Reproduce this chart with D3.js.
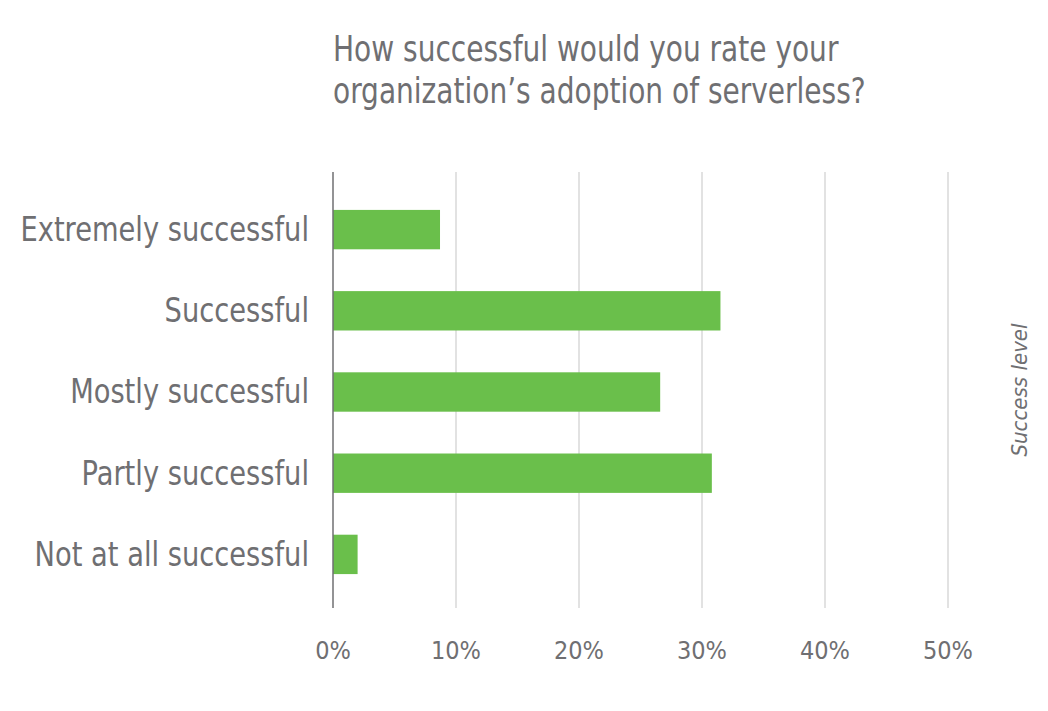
<!DOCTYPE html>
<html>
<head>
<meta charset="utf-8">
<script src="https://cdn.jsdelivr.net/npm/d3@7"></script>
<style>
  body { margin: 0; background: #fff; }
  text { font-family: "Liberation Sans Narrow", "DejaVu Sans Condensed", sans-serif; fill: #6f6f72; }
</style>
</head>
<body>
<div id="chart"></div>
<script>
// Data
const categories = ["Extremely successful", "Successful", "Mostly successful", "Partly successful", "Not at all successful"];
const values = [8.7, 31.5, 26.6, 30.8, 2.0];
const ticks = [0, 10, 20, 30, 40, 50];
const title = ["How successful would you rate your", "organization\u2019s adoption of serverless?"];

const width = 1048;
const height = 711;
const margin = { top: 172, right: 100, bottom: 103, left: 333 };
const squeeze = 0.89; // condensed look, the original face is narrower

const svg = d3.select("#chart")
    .append("svg")
    .attr("width", width)
    .attr("height", height);

const x = d3.scaleLinear()
    .domain([0, 50])
    .range([margin.left, margin.left + 615]);

// bands shifted a little down inside the plot area
const y = d3.scaleBand()
    .domain(categories)
    .range([margin.top + 3, height - margin.bottom + 1])
    .paddingInner(0.515)
    .paddingOuter(0.43);

// Gridlines
svg.append("g")
    .selectAll("line")
    .data(ticks.slice(1))
    .enter().append("line")
    .attr("x1", d => x(d)).attr("x2", d => x(d))
    .attr("y1", margin.top).attr("y2", height - margin.bottom)
    .attr("stroke", "#d9d9d9")
    .attr("stroke-width", 1.5);

// Bars
svg.selectAll(".bar")
    .data(categories)
    .enter().append("rect")
    .attr("x", x(0))
    .attr("y", d => y(d))
    .attr("width", (d, i) => x(values[i]) - x(0))
    .attr("height", y.bandwidth())
    .attr("fill", "#6abf4b");

// Baseline
svg.append("line")
    .attr("x1", x(0)).attr("x2", x(0))
    .attr("y1", margin.top).attr("y2", height - margin.bottom)
    .attr("stroke", "#6f6f72")
    .attr("stroke-width", 1.5);

// Category labels
svg.selectAll(".cat")
    .data(categories)
    .enter().append("text")
    .attr("transform", d => `translate(${x(0) - 24},${y(d) + y.bandwidth() / 2}) scale(0.92,1)`)
    .attr("text-anchor", "end")
    .attr("dominant-baseline", "central")
    .style("font-size", "33px")
    .text(d => d);

// Tick labels
svg.selectAll(".tick-label")
    .data(ticks)
    .enter().append("text")
    .attr("x", d => x(d))
    .attr("y", 650)
    .attr("text-anchor", "middle")
    .attr("dominant-baseline", "central")
    .style("font-size", "25px")
    .text(d => d + "%");

// Title
svg.selectAll(".title")
    .data(title)
    .enter().append("text")
    .attr("transform", (d, i) => `translate(333,${61 + i * 42}) scale(${squeeze},1)`)
    .style("font-size", "35px")
    .text(d => d);

// Right-side axis title
svg.append("text")
    .attr("transform", "translate(1027,390) rotate(-90)")
    .attr("text-anchor", "middle")
    .style("font-size", "22px")
    .style("font-style", "italic")
    .text("Success level");
</script>
</body>
</html>
